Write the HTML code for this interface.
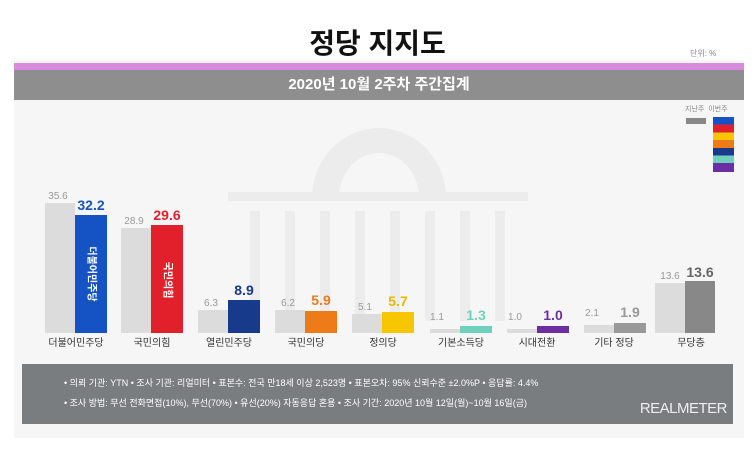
<!DOCTYPE html>
<html><head><meta charset="utf-8"><style>
body{margin:0;width:755px;height:453px;background:#fff;overflow:hidden;font-family:"Liberation Sans","Noto Sans CJK KR",sans-serif;}
.abs{position:absolute}
</style></head><body>
<div class="abs" style="left:14px;top:60px;width:730px;height:378px;background:#f6f6f6"></div>
<svg class="abs" style="left:0;top:0" width="755" height="453">
<g fill="#ececec">
<path d="M312 198 A67 70 0 0 1 446 198 L419 198 A40 45 0 0 0 339 198Z"/>
<rect x="228" y="192" width="300" height="9"/>
<rect x="250" y="211" width="10" height="110"/><rect x="285" y="211" width="10" height="110"/><rect x="320" y="211" width="10" height="110"/><rect x="355" y="211" width="10" height="110"/><rect x="390" y="211" width="10" height="110"/><rect x="425" y="211" width="10" height="110"/><rect x="460" y="211" width="10" height="110"/><rect x="495" y="211" width="10" height="110"/>
</g>
<g font-size="10" fill="#999" text-anchor="middle">
<rect x="45" y="203" width="30" height="130" fill="#dcdcdc"/><text x="58" y="199">35.6</text>
<rect x="121" y="228" width="30" height="105" fill="#dcdcdc"/><text x="134" y="224">28.9</text>
<rect x="198" y="310" width="30" height="23" fill="#dcdcdc"/><text x="211" y="306">6.3</text>
<rect x="275" y="310" width="30" height="23" fill="#dcdcdc"/><text x="288" y="306">6.2</text>
<rect x="352" y="314" width="30" height="19" fill="#dcdcdc"/><text x="365" y="310">5.1</text>
<rect x="430" y="329" width="30" height="4" fill="#dcdcdc"/><text x="437" y="320">1.1</text>
<rect x="507" y="329" width="30" height="4" fill="#dcdcdc"/><text x="515" y="320">1.0</text>
<rect x="584" y="325" width="30" height="8" fill="#dcdcdc"/><text x="592" y="316">2.1</text>
<rect x="655" y="283" width="30" height="50" fill="#dcdcdc"/><text x="670" y="279">13.6</text>
</g>
<g font-size="14" font-weight="bold" text-anchor="middle">
<rect x="75" y="215" width="32" height="118" fill="#1553c5"/><text x="91" y="210" fill="#1553c5">32.2</text>
<rect x="151" y="225" width="32" height="108" fill="#e2202c"/><text x="167" y="220" fill="#e2202c">29.6</text>
<rect x="228" y="300" width="32" height="33" fill="#173a8a"/><text x="244" y="295" fill="#173a8a">8.9</text>
<rect x="305" y="311" width="32" height="22" fill="#ef7a18"/><text x="321" y="305" fill="#ef7a18">5.9</text>
<rect x="382" y="312" width="32" height="21" fill="#f7c600"/><text x="398" y="306" fill="#e8b800">5.7</text>
<rect x="460" y="326" width="32" height="7" fill="#6fd0bb"/><text x="476" y="320" fill="#6fd0bb">1.3</text>
<rect x="537" y="326" width="32" height="7" fill="#6c2fa1"/><text x="553" y="320" fill="#6c2fa1">1.0</text>
<rect x="614" y="323" width="32" height="10" fill="#999"/><text x="630" y="317" fill="#999">1.9</text>
<rect x="685" y="281" width="30" height="52" fill="#888"/><text x="700" y="277" fill="#666">13.6</text>
</g>
<g font-size="10" font-weight="bold" fill="#fff" text-anchor="middle" dominant-baseline="central">
<text x="91" y="274" transform="rotate(90 91 274)">더불어민주당</text>
<text x="167" y="280" transform="rotate(90 167 280)">국민의힘</text>
</g>
<g font-size="10" fill="#333" text-anchor="middle">
<text x="76" y="346">더불어민주당</text><text x="152" y="346">국민의힘</text><text x="229" y="346">열린민주당</text><text x="306" y="346">국민의당</text><text x="383" y="346">정의당</text><text x="461" y="346">기본소득당</text><text x="537" y="346">시대전환</text><text x="614" y="346">기타 정당</text><text x="691" y="346">무당층</text>
</g>
</svg>
<div class="abs" style="left:0;top:22px;width:755px;text-align:center;font-size:28px;font-weight:bold;color:#111">정당 지지도</div>
<div class="abs" style="left:690px;top:48px;font-size:8px;color:#888">단위: %</div>
<div class="abs" style="left:14px;top:63px;width:730px;height:7px;background:#d98be0"></div>
<div class="abs" style="left:14px;top:70px;width:730px;height:30px;background:#8e8e8e;color:#fff;font-size:15px;font-weight:bold;text-align:center;line-height:30px">2020년 10월 2주차 주간집계</div>
<div class="abs" style="left:685px;top:104px;font-size:7px;color:#888;white-space:nowrap">지난주&nbsp; 이번주</div>
<div class="abs" style="left:686px;top:118px;width:20px;height:6px;background:#888"></div>
<div class="abs" style="left:713px;top:117px;width:21px;height:55px;background:linear-gradient(#1553c5 0 14%,#e2202c 14% 28%,#f7c600 28% 42%,#ef7a18 42% 56%,#173a8a 56% 70%,#6fd0bb 70% 84%,#6c2fa1 84%)"></div>
<div class="abs" style="left:22px;top:364px;width:711px;height:60px;background:#7a7d80;color:#fff;font-size:9px">
<div class="abs" style="left:42px;top:12px;white-space:nowrap">• 의뢰 기관: YTN • 조사 기관: 리얼미터 • 표본수: 전국 만18세 이상 2,523명 • 표본오차: 95% 신뢰수준 ±2.0%P • 응답률: 4.4%</div>
<div class="abs" style="left:42px;top:32px;white-space:nowrap">• 조사 방법: 무선 전화면접(10%), 무선(70%) • 유선(20%) 자동응답 혼용 • 조사 기간: 2020년 10월 12일(월)~10월 16일(금)</div>
<div class="abs" style="right:6px;top:36px;font-size:15px;letter-spacing:-0.5px;color:#eee">REALMETER</div>
</div>
</body></html>
